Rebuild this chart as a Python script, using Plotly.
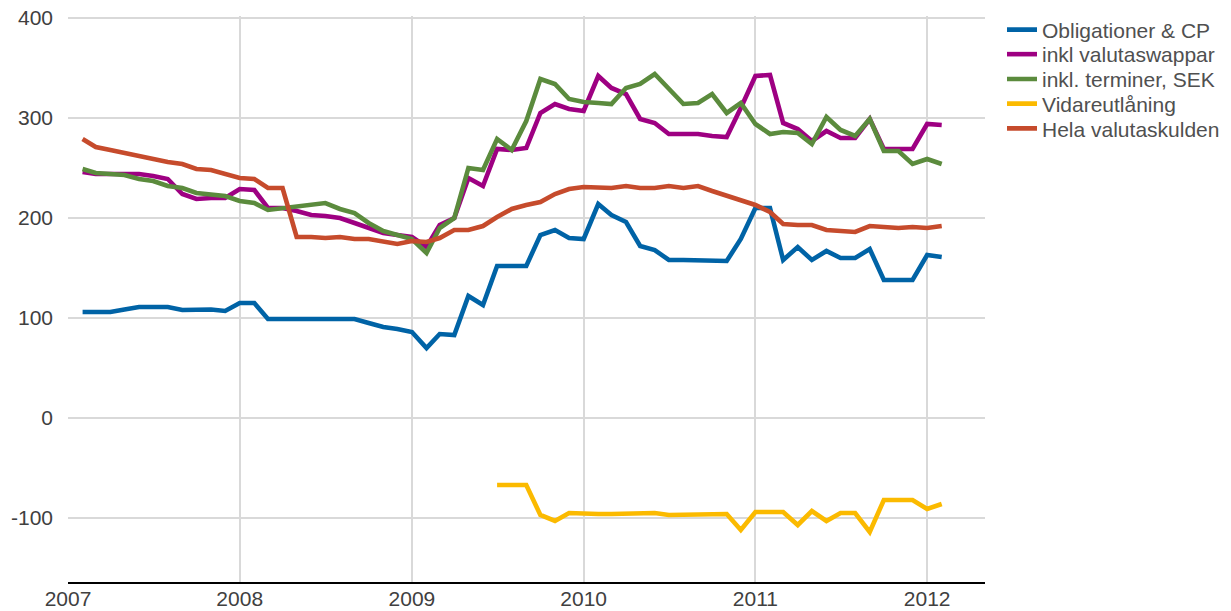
import plotly.graph_objects as go

# Monthly observations, Feb 2007 .. Feb 2012 (61 months)
months = [f"{2007 + (m // 12)}-{(m % 12) + 1:02d}-01" for m in range(1, 62)]

obligationer_cp = [
    106, 106, 106, 108.5, 111, 111, 111, 108, 108, 108.5, 107,
    115, 115, 99, 99, 99, 99, 99, 99, 99, 95, 91, 89,
    86, 70, 84, 83, 122, 113, 152, 152, 152, 183, 188, 180,
    179, 214, 203, 196, 172, 168, 158, 158, 158, 158, 157, 179,
    210, 210, 158, 171, 158, 167, 160, 160, 169, 138, 138, 138,
    163, 161,
]

inkl_valutaswappar = [
    246, 244, 244, 244, 244, 242, 239, 224, 219, 220, 220,
    229, 228, 210, 210, 207, 203, 202, 200, 195, 190, 185, 183,
    181, 171, 193, 200, 240, 232, 269, 268, 270, 305, 314, 309,
    307, 342, 330, 324, 299, 295, 284, 284, 284, 282, 281, 310,
    342, 343, 295, 289, 277, 287, 280, 280, 299, 269, 269, 269,
    294, 293,
]

inkl_terminer_sek = [
    249, 245, 244, 243, 239, 237, 232, 230, 225, 224, 222,
    217, 215, 208, 210, 211, 213, 215, 209, 205, 195, 187, 183,
    179, 165, 190, 200, 250, 248, 279, 268, 297, 339, 334, 319,
    316, 315, 314, 330, 334, 344, 329, 314, 315, 324, 305, 315,
    294, 284, 286, 285, 274, 301, 288, 282, 299, 267, 267, 254,
    259, 254,
]

vidareutlaning = (
    [None] * 29
    + [-67, -67, -67, -97, -103, -95,
       -96, -96, -96, -96, -95, -95, -97, -97, -97, -97, -96, -112,
       -94, -94, -94, -107, -93, -103, -95, -95, -114, -82, -82, -82,
       -91, -86]
)

hela_valutaskulden = [
    279, 271, 268, 265, 263, 260, 256, 254, 249, 248, 244,
    240, 239, 230, 230, 181, 181, 180, 181, 179, 179, 176, 174,
    177, 176, 180, 188, 188, 192, 201, 209, 213, 216, 224, 229,
    231, 231, 230, 232, 230, 230, 232, 230, 232, 227, 222, 217,
    213, 206, 194, 193, 193, 188, 187, 186, 192, 191, 190, 191,
    190, 192,
]

series_names = ["Obligationer & CP", "inkl valutaswappar", "inkl. terminer, SEK",
                "Vidareutlåning", "Hela valutaskulden"]
series_values = [obligationer_cp, inkl_valutaswappar, inkl_terminer_sek,
                 vidareutlaning, hela_valutaskulden]
series_colors = ["#0063A6", "#9E0082", "#5B8B3D", "#FBBA00", "#C64B2C"]

y_tickvals = [-100, 0, 100, 200, 300, 400]
y_ticktext = ["-100", "0", "100", "200", "300", "400"]
x_tickvals = ["2007-01-01", "2008-01-01", "2009-01-01", "2010-01-01",
              "2011-01-01", "2012-01-01"]
x_ticktext = ["2007", "2008", "2009", "2010", "2011", "2012"]

font_family = "Arial, Liberation Sans, sans-serif"

# The page body adds an 8px offset; figure coordinates below compensate for it.
OFF = 8
W, H = 1231 - OFF, 611 - OFF
L, R, T, B = 68 - OFF, 985 - OFF, 16 - OFF, 582 - OFF
PW, PH = R - L, B - T
Y_RANGE = [-164, 402]

legend_centers_px = [30 - OFF, 54.5 - OFF, 79.3 - OFF, 104 - OFF, 128.7 - OFF]
legend_left_px = 1042 - OFF - 40

fig = go.Figure()
legend_layouts = {}
for i, (name, vals, col) in enumerate(zip(series_names, series_values, series_colors)):
    key = "legend" if i == 0 else f"legend{i + 1}"
    fig.add_trace(go.Scatter(
        x=months, y=vals, name=name, mode="lines",
        line=dict(color=col, width=4.6), connectgaps=False,
        legend=key,
    ))
    legend_layouts[key] = dict(
        x=(legend_left_px - L) / PW, xanchor="left",
        y=(B - legend_centers_px[i]) / PH, yanchor="middle",
        font=dict(family=font_family, size=21, color="#505050"),
        bgcolor="rgba(0,0,0,0)", borderwidth=0,
    )

fig.update_layout(
    width=W, height=H,
    margin=dict(l=L, r=W - R, t=T, b=H - B, autoexpand=False),
    paper_bgcolor="white", plot_bgcolor="white",
    font=dict(family=font_family, size=21, color="#404040"),
    showlegend=True,
    xaxis=dict(
        type="date",
        range=["2007-01-01", "2012-05-03"],
        tickvals=x_tickvals, ticktext=x_ticktext,
        showgrid=True, gridcolor="#D9D9D9", gridwidth=1.5,
        showline=True, linecolor="black", linewidth=2,
        ticks="", zeroline=False, automargin=False,
        ticklabelstandoff=-3, ticklabeloverflow="allow",
        tickfont=dict(size=21, color="#404040"),
    ),
    yaxis=dict(
        range=Y_RANGE,
        tickvals=y_tickvals, ticktext=y_ticktext,
        showgrid=True, gridcolor="#D9D9D9", gridwidth=1.5,
        showline=False, zeroline=False, ticks="", automargin=False,
        ticklabelstandoff=14, ticklabeloverflow="allow",
        tickfont=dict(size=21, color="#404040"),
    ),
    **legend_layouts,
)

fig.write_html("out.html")
